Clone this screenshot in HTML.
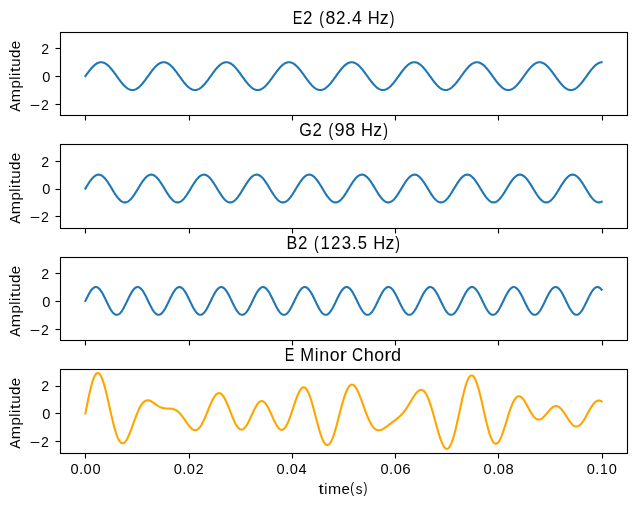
<!DOCTYPE html>
<html><head><meta charset="utf-8"><title>E Minor Chord</title>
<style>html,body{margin:0;padding:0;background:#fff;overflow:hidden}svg{display:block}text{font-family:"Liberation Sans",sans-serif}</style>
</head><body>
<svg width="636" height="506" viewBox="0 0 636 506">
<rect width="636" height="506" fill="#fff"/>
<polyline fill="none" stroke="#1f77b4" stroke-width="2.11" stroke-linejoin="round" stroke-linecap="square" points="85.41,76.12 85.93,75.40 86.44,74.69 86.96,73.97 87.48,73.26 87.99,72.56 88.51,71.87 89.03,71.19 89.54,70.53 90.06,69.88 90.58,69.24 91.09,68.63 91.61,68.03 92.13,67.46 92.64,66.90 93.16,66.38 93.68,65.88 94.19,65.41 94.71,64.96 95.23,64.55 95.74,64.17 96.26,63.82 96.78,63.50 97.29,63.22 97.81,62.97 98.33,62.75 98.84,62.58 99.36,62.43 99.88,62.33 100.39,62.26 100.91,62.23 101.43,62.24 101.94,62.28 102.46,62.36 102.98,62.48 103.49,62.64 104.01,62.83 104.53,63.06 105.04,63.32 105.56,63.62 106.08,63.95 106.59,64.31 107.11,64.70 107.63,65.13 108.14,65.58 108.66,66.07 109.18,66.58 109.69,67.11 110.21,67.67 110.73,68.25 111.24,68.86 111.76,69.48 112.28,70.12 112.79,70.78 113.31,71.45 113.83,72.14 114.34,72.83 114.86,73.53 115.38,74.24 115.89,74.96 116.41,75.68 116.93,76.40 117.44,77.12 117.96,77.83 118.48,78.55 118.99,79.25 119.51,79.95 120.03,80.64 120.54,81.31 121.06,81.97 121.58,82.62 122.09,83.24 122.61,83.85 123.13,84.44 123.64,85.01 124.16,85.55 124.68,86.06 125.19,86.55 125.71,87.02 126.23,87.45 126.74,87.85 127.26,88.22 127.78,88.56 128.30,88.86 128.81,89.13 129.33,89.37 129.85,89.57 130.36,89.73 130.88,89.86 131.40,89.95 131.91,90.00 132.43,90.02 132.95,90.00 133.46,89.94 133.98,89.84 134.50,89.71 135.01,89.54 135.53,89.34 136.05,89.10 136.56,88.82 137.08,88.51 137.60,88.17 138.11,87.79 138.63,87.39 139.15,86.95 139.66,86.49 140.18,85.99 140.70,85.47 141.21,84.93 141.73,84.36 142.25,83.77 142.76,83.16 143.28,82.53 143.80,81.88 144.31,81.22 144.83,80.54 145.35,79.85 145.86,79.15 146.38,78.45 146.90,77.73 147.41,77.02 147.93,76.30 148.45,75.58 148.96,74.86 149.48,74.14 150.00,73.43 150.51,72.73 151.03,72.04 151.55,71.35 152.06,70.68 152.58,70.03 153.10,69.39 153.61,68.77 154.13,68.17 154.65,67.59 155.16,67.03 155.68,66.50 156.20,66.00 156.71,65.52 157.23,65.07 157.75,64.64 158.26,64.25 158.78,63.90 159.30,63.57 159.81,63.28 160.33,63.02 160.85,62.80 161.36,62.61 161.88,62.46 162.40,62.35 162.91,62.27 163.43,62.24 163.95,62.23 164.46,62.27 164.98,62.34 165.50,62.45 166.01,62.60 166.53,62.78 167.05,63.00 167.56,63.25 168.08,63.54 168.60,63.86 169.11,64.22 169.63,64.61 170.15,65.02 170.66,65.47 171.18,65.95 171.70,66.45 172.21,66.98 172.73,67.54 173.25,68.11 173.76,68.71 174.28,69.33 174.80,69.97 175.31,70.62 175.83,71.29 176.35,71.97 176.86,72.66 177.38,73.37 177.90,74.07 178.41,74.79 178.93,75.51 179.45,76.23 179.96,76.95 180.48,77.66 181.00,78.38 181.52,79.09 182.03,79.78 182.55,80.47 183.07,81.15 183.58,81.82 184.10,82.46 184.62,83.10 185.13,83.71 185.65,84.30 186.17,84.87 186.68,85.42 187.20,85.94 187.72,86.44 188.23,86.91 188.75,87.35 189.27,87.76 189.78,88.13 190.30,88.48 190.82,88.79 191.33,89.07 191.85,89.32 192.37,89.52 192.88,89.70 193.40,89.83 193.92,89.93 194.43,89.99 194.95,90.02 195.47,90.01 195.98,89.96 196.50,89.87 197.02,89.75 197.53,89.59 198.05,89.39 198.57,89.16 199.08,88.89 199.60,88.59 200.12,88.25 200.63,87.89 201.15,87.49 201.67,87.06 202.18,86.60 202.70,86.11 203.22,85.60 203.73,85.06 204.25,84.50 204.77,83.91 205.28,83.30 205.80,82.68 206.32,82.03 206.83,81.37 207.35,80.70 207.87,80.01 208.38,79.32 208.90,78.61 209.42,77.90 209.93,77.19 210.45,76.47 210.97,75.75 211.48,75.03 212.00,74.31 212.52,73.60 213.03,72.90 213.55,72.20 214.07,71.52 214.58,70.84 215.10,70.18 215.62,69.54 216.13,68.92 216.65,68.31 217.17,67.73 217.68,67.16 218.20,66.63 218.72,66.11 219.23,65.63 219.75,65.17 220.27,64.74 220.78,64.34 221.30,63.98 221.82,63.65 222.33,63.35 222.85,63.08 223.37,62.85 223.88,62.66 224.40,62.50 224.92,62.37 225.43,62.29 225.95,62.24 226.47,62.23 226.98,62.26 227.50,62.32 228.02,62.42 228.53,62.56 229.05,62.73 229.57,62.94 230.08,63.19 230.60,63.47 231.12,63.78 231.63,64.13 232.15,64.51 232.67,64.92 233.18,65.36 233.70,65.83 234.22,66.33 234.73,66.85 235.25,67.40 235.77,67.97 236.29,68.57 236.80,69.18 237.32,69.82 237.84,70.47 238.35,71.13 238.87,71.81 239.39,72.50 239.90,73.20 240.42,73.91 240.94,74.62 241.45,75.34 241.97,76.06 242.49,76.78 243.00,77.49 243.52,78.21 244.04,78.92 244.55,79.62 245.07,80.31 245.59,80.99 246.10,81.66 246.62,82.31 247.14,82.95 247.65,83.57 248.17,84.16 248.69,84.74 249.20,85.29 249.72,85.82 250.24,86.32 250.75,86.80 251.27,87.25 251.79,87.66 252.30,88.05 252.82,88.40 253.34,88.72 253.85,89.01 254.37,89.26 254.89,89.48 255.40,89.66 255.92,89.80 256.44,89.91 256.95,89.98 257.47,90.02 257.99,90.01 258.50,89.97 259.02,89.89 259.54,89.78 260.05,89.63 260.57,89.44 261.09,89.22 261.60,88.96 262.12,88.66 262.64,88.34 263.15,87.98 263.67,87.58 264.19,87.16 264.70,86.71 265.22,86.23 265.74,85.72 266.25,85.19 266.77,84.63 267.29,84.05 267.80,83.45 268.32,82.83 268.84,82.19 269.35,81.53 269.87,80.86 270.39,80.18 270.90,79.49 271.42,78.78 271.94,78.07 272.45,77.36 272.97,76.64 273.49,75.92 274.00,75.20 274.52,74.48 275.04,73.77 275.55,73.06 276.07,72.37 276.59,71.68 277.10,71.00 277.62,70.34 278.14,69.69 278.65,69.06 279.17,68.45 279.69,67.86 280.20,67.30 280.72,66.75 281.24,66.23 281.75,65.74 282.27,65.28 282.79,64.84 283.30,64.44 283.82,64.06 284.34,63.72 284.85,63.41 285.37,63.14 285.89,62.90 286.40,62.70 286.92,62.53 287.44,62.40 287.95,62.31 288.47,62.25 288.99,62.23 289.51,62.25 290.02,62.30 290.54,62.40 291.06,62.52 291.57,62.69 292.09,62.89 292.61,63.13 293.12,63.40 293.64,63.71 294.16,64.05 294.67,64.42 295.19,64.82 295.71,65.26 296.22,65.72 296.74,66.21 297.26,66.73 297.77,67.27 298.29,67.84 298.81,68.43 299.32,69.03 299.84,69.66 300.36,70.31 300.87,70.97 301.39,71.65 301.91,72.33 302.42,73.03 302.94,73.74 303.46,74.45 303.97,75.17 304.49,75.89 305.01,76.61 305.52,77.32 306.04,78.04 306.56,78.75 307.07,79.45 307.59,80.15 308.11,80.83 308.62,81.50 309.14,82.16 309.66,82.80 310.17,83.42 310.69,84.02 311.21,84.60 311.72,85.16 312.24,85.70 312.76,86.21 313.27,86.69 313.79,87.14 314.31,87.57 314.82,87.96 315.34,88.32 315.86,88.65 316.37,88.94 316.89,89.20 317.41,89.43 317.92,89.62 318.44,89.77 318.96,89.89 319.47,89.97 319.99,90.01 320.51,90.02 321.02,89.98 321.54,89.92 322.06,89.81 322.57,89.67 323.09,89.49 323.61,89.27 324.12,89.02 324.64,88.74 325.16,88.42 325.67,88.06 326.19,87.68 326.71,87.27 327.22,86.82 327.74,86.35 328.26,85.85 328.77,85.32 329.29,84.77 329.81,84.19 330.32,83.59 330.84,82.98 331.36,82.34 331.87,81.69 332.39,81.02 332.91,80.34 333.42,79.65 333.94,78.95 334.46,78.24 334.97,77.53 335.49,76.81 336.01,76.09 336.52,75.37 337.04,74.65 337.56,73.94 338.07,73.23 338.59,72.53 339.11,71.84 339.62,71.16 340.14,70.50 340.66,69.85 341.17,69.21 341.69,68.60 342.21,68.00 342.72,67.43 343.24,66.88 343.76,66.35 344.28,65.86 344.79,65.38 345.31,64.94 345.83,64.53 346.34,64.15 346.86,63.80 347.38,63.48 347.89,63.20 348.41,62.96 348.93,62.74 349.44,62.57 349.96,62.43 350.48,62.33 350.99,62.26 351.51,62.23 352.03,62.24 352.54,62.29 353.06,62.37 353.58,62.49 354.09,62.65 354.61,62.84 355.13,63.07 355.64,63.33 356.16,63.63 356.68,63.96 357.19,64.33 357.71,64.72 358.23,65.15 358.74,65.61 359.26,66.09 359.78,66.60 360.29,67.14 360.81,67.70 361.33,68.28 361.84,68.89 362.36,69.51 362.88,70.15 363.39,70.81 363.91,71.48 364.43,72.17 364.94,72.86 365.46,73.57 365.98,74.28 366.49,75.00 367.01,75.71 367.53,76.43 368.04,77.15 368.56,77.87 369.08,78.58 369.59,79.29 370.11,79.98 370.63,80.67 371.14,81.34 371.66,82.00 372.18,82.65 372.69,83.27 373.21,83.88 373.73,84.47 374.24,85.03 374.76,85.57 375.28,86.09 375.79,86.58 376.31,87.04 376.83,87.47 377.34,87.87 377.86,88.24 378.38,88.57 378.89,88.88 379.41,89.15 379.93,89.38 380.44,89.58 380.96,89.74 381.48,89.86 381.99,89.95 382.51,90.00 383.03,90.02 383.54,90.00 384.06,89.94 384.58,89.84 385.09,89.70 385.61,89.53 386.13,89.33 386.64,89.08 387.16,88.81 387.68,88.50 388.19,88.15 388.71,87.77 389.23,87.37 389.74,86.93 390.26,86.46 390.78,85.97 391.29,85.45 391.81,84.90 392.33,84.33 392.84,83.74 393.36,83.13 393.88,82.49 394.39,81.85 394.91,81.18 395.43,80.51 395.94,79.82 396.46,79.12 396.98,78.41 397.49,77.70 398.01,76.98 398.53,76.26 399.05,75.54 399.56,74.82 400.08,74.11 400.60,73.40 401.11,72.70 401.63,72.00 402.15,71.32 402.66,70.65 403.18,70.00 403.70,69.36 404.21,68.74 404.73,68.14 405.25,67.56 405.76,67.01 406.28,66.48 406.80,65.97 407.31,65.49 407.83,65.04 408.35,64.63 408.86,64.24 409.38,63.88 409.90,63.56 410.41,63.27 410.93,63.01 411.45,62.79 411.96,62.61 412.48,62.46 413.00,62.35 413.51,62.27 414.03,62.23 414.55,62.23 415.06,62.27 415.58,62.35 416.10,62.46 416.61,62.61 417.13,62.79 417.65,63.01 418.16,63.27 418.68,63.56 419.20,63.88 419.71,64.24 420.23,64.63 420.75,65.05 421.26,65.49 421.78,65.97 422.30,66.48 422.81,67.01 423.33,67.56 423.85,68.14 424.36,68.74 424.88,69.36 425.40,70.00 425.91,70.65 426.43,71.32 426.95,72.01 427.46,72.70 427.98,73.40 428.50,74.11 429.01,74.82 429.53,75.54 430.05,76.26 430.56,76.98 431.08,77.70 431.60,78.41 432.11,79.12 432.63,79.82 433.15,80.51 433.66,81.18 434.18,81.85 434.70,82.50 435.21,83.13 435.73,83.74 436.25,84.33 436.76,84.90 437.28,85.45 437.80,85.97 438.31,86.46 438.83,86.93 439.35,87.37 439.86,87.78 440.38,88.15 440.90,88.50 441.41,88.81 441.93,89.08 442.45,89.33 442.96,89.53 443.48,89.70 444.00,89.84 444.51,89.94 445.03,90.00 445.55,90.02 446.06,90.00 446.58,89.95 447.10,89.86 447.61,89.74 448.13,89.58 448.65,89.38 449.16,89.14 449.68,88.88 450.20,88.57 450.71,88.24 451.23,87.87 451.75,87.47 452.27,87.04 452.78,86.58 453.30,86.09 453.82,85.57 454.33,85.03 454.85,84.47 455.37,83.88 455.88,83.27 456.40,82.65 456.92,82.00 457.43,81.34 457.95,80.67 458.47,79.98 458.98,79.28 459.50,78.58 460.02,77.87 460.53,77.15 461.05,76.43 461.57,75.71 462.08,74.99 462.60,74.28 463.12,73.57 463.63,72.86 464.15,72.17 464.67,71.48 465.18,70.81 465.70,70.15 466.22,69.51 466.73,68.89 467.25,68.28 467.77,67.70 468.28,67.14 468.80,66.60 469.32,66.09 469.83,65.60 470.35,65.15 470.87,64.72 471.38,64.33 471.90,63.96 472.42,63.63 472.93,63.33 473.45,63.07 473.97,62.84 474.48,62.65 475.00,62.49 475.52,62.37 476.03,62.29 476.55,62.24 477.07,62.23 477.58,62.26 478.10,62.33 478.62,62.43 479.13,62.57 479.65,62.74 480.17,62.96 480.68,63.20 481.20,63.48 481.72,63.80 482.23,64.15 482.75,64.53 483.27,64.94 483.78,65.39 484.30,65.86 484.82,66.36 485.33,66.88 485.85,67.43 486.37,68.00 486.88,68.60 487.40,69.21 487.92,69.85 488.43,70.50 488.95,71.16 489.47,71.84 489.98,72.53 490.50,73.23 491.02,73.94 491.53,74.65 492.05,75.37 492.57,76.09 493.08,76.81 493.60,77.53 494.12,78.24 494.63,78.95 495.15,79.65 495.67,80.34 496.18,81.02 496.70,81.69 497.22,82.34 497.73,82.98 498.25,83.60 498.77,84.19 499.28,84.77 499.80,85.32 500.32,85.85 500.83,86.35 501.35,86.82 501.87,87.27 502.38,87.68 502.90,88.07 503.42,88.42 503.93,88.74 504.45,89.02 504.97,89.27 505.48,89.49 506.00,89.67 506.52,89.81 507.04,89.92 507.55,89.98 508.07,90.02 508.59,90.01 509.10,89.97 509.62,89.89 510.14,89.77 510.65,89.62 511.17,89.43 511.69,89.20 512.20,88.94 512.72,88.65 513.24,88.32 513.75,87.96 514.27,87.56 514.79,87.14 515.30,86.69 515.82,86.21 516.34,85.70 516.85,85.16 517.37,84.60 517.89,84.02 518.40,83.42 518.92,82.80 519.44,82.16 519.95,81.50 520.47,80.83 520.99,80.15 521.50,79.45 522.02,78.75 522.54,78.04 523.05,77.32 523.57,76.60 524.09,75.88 524.60,75.16 525.12,74.45 525.64,73.74 526.15,73.03 526.67,72.33 527.19,71.64 527.70,70.97 528.22,70.31 528.74,69.66 529.25,69.03 529.77,68.42 530.29,67.84 530.80,67.27 531.32,66.73 531.84,66.21 532.35,65.72 532.87,65.25 533.39,64.82 533.90,64.42 534.42,64.05 534.94,63.71 535.45,63.40 535.97,63.13 536.49,62.89 537.00,62.69 537.52,62.52 538.04,62.39 538.55,62.30 539.07,62.25 539.59,62.23 540.10,62.25 540.62,62.31 541.14,62.40 541.65,62.53 542.17,62.70 542.69,62.90 543.20,63.14 543.72,63.41 544.24,63.72 544.75,64.06 545.27,64.44 545.79,64.84 546.30,65.28 546.82,65.74 547.34,66.23 547.85,66.75 548.37,67.30 548.89,67.86 549.40,68.45 549.92,69.06 550.44,69.69 550.95,70.34 551.47,71.00 551.99,71.68 552.50,72.37 553.02,73.07 553.54,73.77 554.05,74.48 554.57,75.20 555.09,75.92 555.60,76.64 556.12,77.36 556.64,78.07 557.15,78.78 557.67,79.49 558.19,80.18 558.70,80.86 559.22,81.53 559.74,82.19 560.26,82.83 560.77,83.45 561.29,84.05 561.81,84.63 562.32,85.19 562.84,85.72 563.36,86.23 563.87,86.71 564.39,87.16 564.91,87.59 565.42,87.98 565.94,88.34 566.46,88.66 566.97,88.96 567.49,89.22 568.01,89.44 568.52,89.63 569.04,89.78 569.56,89.89 570.07,89.97 570.59,90.01 571.11,90.02 571.62,89.98 572.14,89.91 572.66,89.80 573.17,89.66 573.69,89.48 574.21,89.26 574.72,89.01 575.24,88.72 575.76,88.40 576.27,88.05 576.79,87.66 577.31,87.24 577.82,86.80 578.34,86.32 578.86,85.82 579.37,85.29 579.89,84.74 580.41,84.16 580.92,83.56 581.44,82.95 581.96,82.31 582.47,81.66 582.99,80.99 583.51,80.31 584.02,79.62 584.54,78.92 585.06,78.21 585.57,77.49 586.09,76.77 586.61,76.05 587.12,75.34 587.64,74.62 588.16,73.90 588.67,73.20 589.19,72.50 589.71,71.81 590.22,71.13 590.74,70.46 591.26,69.81 591.77,69.18 592.29,68.57 592.81,67.97 593.32,67.40 593.84,66.85 594.36,66.33 594.87,65.83 595.39,65.36 595.91,64.92 596.42,64.51 596.94,64.13 597.46,63.78 597.97,63.47 598.49,63.19 599.01,62.94 599.52,62.73 600.04,62.56 600.56,62.42 601.07,62.32 601.59,62.26"/>
<polyline fill="none" stroke="#1f77b4" stroke-width="2.11" stroke-linejoin="round" stroke-linecap="square" points="85.41,188.53 85.93,187.67 86.44,186.82 86.96,185.97 87.48,185.14 87.99,184.31 88.51,183.50 89.03,182.72 89.54,181.95 90.06,181.21 90.58,180.49 91.09,179.81 91.61,179.16 92.13,178.55 92.64,177.97 93.16,177.43 93.68,176.94 94.19,176.49 94.71,176.08 95.23,175.73 95.74,175.42 96.26,175.16 96.78,174.95 97.29,174.79 97.81,174.69 98.33,174.64 98.84,174.64 99.36,174.69 99.88,174.80 100.39,174.96 100.91,175.17 101.43,175.43 101.94,175.74 102.46,176.10 102.98,176.50 103.49,176.95 104.01,177.45 104.53,177.99 105.04,178.57 105.56,179.18 106.08,179.83 106.59,180.52 107.11,181.23 107.63,181.97 108.14,182.74 108.66,183.53 109.18,184.34 109.69,185.16 110.21,186.00 110.73,186.84 111.24,187.70 111.76,188.55 112.28,189.41 112.79,190.26 113.31,191.11 113.83,191.94 114.34,192.77 114.86,193.57 115.38,194.36 115.89,195.13 116.41,195.87 116.93,196.58 117.44,197.26 117.96,197.91 118.48,198.52 118.99,199.10 119.51,199.64 120.03,200.13 120.54,200.58 121.06,200.98 121.58,201.34 122.09,201.64 122.61,201.90 123.13,202.11 123.64,202.26 124.16,202.37 124.68,202.42 125.19,202.41 125.71,202.36 126.23,202.25 126.74,202.09 127.26,201.88 127.78,201.62 128.30,201.31 128.81,200.95 129.33,200.54 129.85,200.08 130.36,199.59 130.88,199.05 131.40,198.47 131.91,197.85 132.43,197.20 132.95,196.52 133.46,195.80 133.98,195.06 134.50,194.29 135.01,193.50 135.53,192.69 136.05,191.87 136.56,191.03 137.08,190.18 137.60,189.33 138.11,188.47 138.63,187.62 139.15,186.77 139.66,185.92 140.18,185.08 140.70,184.26 141.21,183.46 141.73,182.67 142.25,181.90 142.76,181.16 143.28,180.45 143.80,179.77 144.31,179.12 144.83,178.51 145.35,177.94 145.86,177.40 146.38,176.91 146.90,176.46 147.41,176.06 147.93,175.71 148.45,175.40 148.96,175.15 149.48,174.94 150.00,174.79 150.51,174.69 151.03,174.64 151.55,174.64 152.06,174.70 152.58,174.81 153.10,174.97 153.61,175.18 154.13,175.45 154.65,175.76 155.16,176.12 155.68,176.53 156.20,176.98 156.71,177.48 157.23,178.02 157.75,178.60 158.26,179.22 158.78,179.87 159.30,180.56 159.81,181.28 160.33,182.02 160.85,182.79 161.36,183.58 161.88,184.39 162.40,185.21 162.91,186.05 163.43,186.90 163.95,187.75 164.46,188.61 164.98,189.46 165.50,190.31 166.01,191.16 166.53,191.99 167.05,192.82 167.56,193.62 168.08,194.41 168.60,195.17 169.11,195.91 169.63,196.62 170.15,197.30 170.66,197.95 171.18,198.56 171.70,199.13 172.21,199.67 172.73,200.16 173.25,200.60 173.76,201.00 174.28,201.36 174.80,201.66 175.31,201.92 175.83,202.12 176.35,202.27 176.86,202.37 177.38,202.42 177.90,202.41 178.41,202.35 178.93,202.24 179.45,202.08 179.96,201.86 180.48,201.60 181.00,201.28 181.52,200.92 182.03,200.51 182.55,200.06 183.07,199.56 183.58,199.01 184.10,198.43 184.62,197.81 185.13,197.16 185.65,196.47 186.17,195.76 186.68,195.01 187.20,194.24 187.72,193.45 188.23,192.64 188.75,191.82 189.27,190.98 189.78,190.13 190.30,189.28 190.82,188.42 191.33,187.57 191.85,186.71 192.37,185.87 192.88,185.03 193.40,184.21 193.92,183.41 194.43,182.62 194.95,181.86 195.47,181.12 195.98,180.41 196.50,179.73 197.02,179.08 197.53,178.47 198.05,177.90 198.57,177.37 199.08,176.88 199.60,176.44 200.12,176.04 200.63,175.69 201.15,175.38 201.67,175.13 202.18,174.93 202.70,174.78 203.22,174.68 203.73,174.64 204.25,174.64 204.77,174.70 205.28,174.82 205.80,174.98 206.32,175.20 206.83,175.46 207.35,175.78 207.87,176.14 208.38,176.56 208.90,177.01 209.42,177.51 209.93,178.06 210.45,178.64 210.97,179.26 211.48,179.91 212.00,180.60 212.52,181.32 213.03,182.07 213.55,182.84 214.07,183.63 214.58,184.44 215.10,185.26 215.62,186.10 216.13,186.95 216.65,187.80 217.17,188.66 217.68,189.51 218.20,190.37 218.72,191.21 219.23,192.04 219.75,192.87 220.27,193.67 220.78,194.46 221.30,195.22 221.82,195.96 222.33,196.67 222.85,197.34 223.37,197.99 223.88,198.60 224.40,199.17 224.92,199.70 225.43,200.19 225.95,200.63 226.47,201.03 226.98,201.38 227.50,201.68 228.02,201.93 228.53,202.13 229.05,202.28 229.57,202.37 230.08,202.42 230.60,202.41 231.12,202.35 231.63,202.23 232.15,202.07 232.67,201.85 233.18,201.58 233.70,201.26 234.22,200.90 234.73,200.48 235.25,200.03 235.77,199.52 236.29,198.98 236.80,198.40 237.32,197.78 237.84,197.12 238.35,196.43 238.87,195.71 239.39,194.96 239.90,194.19 240.42,193.40 240.94,192.59 241.45,191.77 241.97,190.93 242.49,190.08 243.00,189.23 243.52,188.37 244.04,187.51 244.55,186.66 245.07,185.82 245.59,184.98 246.10,184.16 246.62,183.36 247.14,182.57 247.65,181.81 248.17,181.08 248.69,180.37 249.20,179.69 249.72,179.05 250.24,178.44 250.75,177.87 251.27,177.34 251.79,176.85 252.30,176.41 252.82,176.02 253.34,175.67 253.85,175.37 254.37,175.12 254.89,174.92 255.40,174.77 255.92,174.68 256.44,174.63 256.95,174.65 257.47,174.71 257.99,174.82 258.50,174.99 259.02,175.21 259.54,175.48 260.05,175.80 260.57,176.17 261.09,176.58 261.60,177.04 262.12,177.55 262.64,178.09 263.15,178.68 263.67,179.30 264.19,179.96 264.70,180.65 265.22,181.37 265.74,182.11 266.25,182.88 266.77,183.68 267.29,184.49 267.80,185.31 268.32,186.15 268.84,187.00 269.35,187.85 269.87,188.71 270.39,189.57 270.90,190.42 271.42,191.26 271.94,192.10 272.45,192.92 272.97,193.72 273.49,194.50 274.00,195.26 274.52,196.00 275.04,196.71 275.55,197.38 276.07,198.03 276.59,198.63 277.10,199.20 277.62,199.73 278.14,200.21 278.65,200.65 279.17,201.05 279.69,201.40 280.20,201.69 280.72,201.94 281.24,202.14 281.75,202.29 282.27,202.38 282.79,202.42 283.30,202.41 283.82,202.34 284.34,202.23 284.85,202.06 285.37,201.84 285.89,201.56 286.40,201.24 286.92,200.87 287.44,200.46 287.95,200.00 288.47,199.49 288.99,198.95 289.51,198.36 290.02,197.74 290.54,197.08 291.06,196.39 291.57,195.67 292.09,194.92 292.61,194.15 293.12,193.35 293.64,192.54 294.16,191.71 294.67,190.87 295.19,190.03 295.71,189.17 296.22,188.32 296.74,187.46 297.26,186.61 297.77,185.77 298.29,184.93 298.81,184.11 299.32,183.31 299.84,182.53 300.36,181.77 300.87,181.03 301.39,180.32 301.91,179.65 302.42,179.01 302.94,178.40 303.46,177.84 303.97,177.31 304.49,176.83 305.01,176.39 305.52,175.99 306.04,175.65 306.56,175.35 307.07,175.10 307.59,174.91 308.11,174.76 308.62,174.67 309.14,174.63 309.66,174.65 310.17,174.71 310.69,174.83 311.21,175.00 311.72,175.23 312.24,175.50 312.76,175.82 313.27,176.19 313.79,176.61 314.31,177.07 314.82,177.58 315.34,178.13 315.86,178.71 316.37,179.34 316.89,180.00 317.41,180.69 317.92,181.41 318.44,182.16 318.96,182.93 319.47,183.73 319.99,184.54 320.51,185.37 321.02,186.20 321.54,187.05 322.06,187.91 322.57,188.76 323.09,189.62 323.61,190.47 324.12,191.31 324.64,192.15 325.16,192.97 325.67,193.77 326.19,194.55 326.71,195.31 327.22,196.04 327.74,196.75 328.26,197.42 328.77,198.06 329.29,198.67 329.81,199.23 330.32,199.76 330.84,200.24 331.36,200.68 331.87,201.07 332.39,201.42 332.91,201.71 333.42,201.96 333.94,202.15 334.46,202.29 334.97,202.38 335.49,202.42 336.01,202.40 336.52,202.34 337.04,202.22 337.56,202.04 338.07,201.82 338.59,201.55 339.11,201.22 339.62,200.85 340.14,200.43 340.66,199.97 341.17,199.46 341.69,198.91 342.21,198.32 342.72,197.70 343.24,197.04 343.76,196.34 344.28,195.62 344.79,194.87 345.31,194.10 345.83,193.30 346.34,192.49 346.86,191.66 347.38,190.82 347.89,189.97 348.41,189.12 348.93,188.26 349.44,187.41 349.96,186.56 350.48,185.71 350.99,184.88 351.51,184.06 352.03,183.26 352.54,182.48 353.06,181.72 353.58,180.99 354.09,180.28 354.61,179.61 355.13,178.97 355.64,178.37 356.16,177.80 356.68,177.28 357.19,176.80 357.71,176.36 358.23,175.97 358.74,175.63 359.26,175.33 359.78,175.09 360.29,174.90 360.81,174.76 361.33,174.67 361.84,174.63 362.36,174.65 362.88,174.72 363.39,174.84 363.91,175.02 364.43,175.24 364.94,175.52 365.46,175.84 365.98,176.22 366.49,176.64 367.01,177.10 367.53,177.61 368.04,178.16 368.56,178.75 369.08,179.38 369.59,180.04 370.11,180.73 370.63,181.46 371.14,182.21 371.66,182.98 372.18,183.77 372.69,184.59 373.21,185.42 373.73,186.26 374.24,187.10 374.76,187.96 375.28,188.82 375.79,189.67 376.31,190.52 376.83,191.36 377.34,192.20 377.86,193.02 378.38,193.82 378.89,194.60 379.41,195.36 379.93,196.09 380.44,196.79 380.96,197.46 381.48,198.10 381.99,198.70 382.51,199.27 383.03,199.79 383.54,200.27 384.06,200.71 384.58,201.09 385.09,201.44 385.61,201.73 386.13,201.97 386.64,202.16 387.16,202.30 387.68,202.39 388.19,202.42 388.71,202.40 389.23,202.33 389.74,202.21 390.26,202.03 390.78,201.80 391.29,201.53 391.81,201.20 392.33,200.83 392.84,200.40 393.36,199.94 393.88,199.43 394.39,198.88 394.91,198.29 395.43,197.66 395.94,196.99 396.46,196.30 396.98,195.58 397.49,194.83 398.01,194.05 398.53,193.25 399.05,192.44 399.56,191.61 400.08,190.77 400.60,189.92 401.11,189.07 401.63,188.21 402.15,187.36 402.66,186.51 403.18,185.66 403.70,184.83 404.21,184.01 404.73,183.21 405.25,182.43 405.76,181.67 406.28,180.94 406.80,180.24 407.31,179.57 407.83,178.93 408.35,178.33 408.86,177.77 409.38,177.25 409.90,176.77 410.41,176.34 410.93,175.95 411.45,175.61 411.96,175.32 412.48,175.08 413.00,174.89 413.51,174.75 414.03,174.67 414.55,174.63 415.06,174.65 415.58,174.73 416.10,174.85 416.61,175.03 417.13,175.26 417.65,175.54 418.16,175.86 418.68,176.24 419.20,176.66 419.71,177.13 420.23,177.64 420.75,178.20 421.26,178.79 421.78,179.42 422.30,180.08 422.81,180.78 423.33,181.50 423.85,182.25 424.36,183.03 424.88,183.82 425.40,184.64 425.91,185.47 426.43,186.31 426.95,187.16 427.46,188.01 427.98,188.87 428.50,189.72 429.01,190.57 429.53,191.42 430.05,192.25 430.56,193.06 431.08,193.87 431.60,194.65 432.11,195.40 432.63,196.13 433.15,196.83 433.66,197.50 434.18,198.14 434.70,198.74 435.21,199.30 435.73,199.82 436.25,200.30 436.76,200.73 437.28,201.12 437.80,201.45 438.31,201.74 438.83,201.98 439.35,202.17 439.86,202.31 440.38,202.39 440.90,202.42 441.41,202.40 441.93,202.32 442.45,202.20 442.96,202.02 443.48,201.79 444.00,201.51 444.51,201.18 445.03,200.80 445.55,200.38 446.06,199.91 446.58,199.39 447.10,198.84 447.61,198.25 448.13,197.62 448.65,196.95 449.16,196.26 449.68,195.53 450.20,194.78 450.71,194.00 451.23,193.21 451.75,192.39 452.27,191.56 452.78,190.72 453.30,189.87 453.82,189.02 454.33,188.16 454.85,187.30 455.37,186.45 455.88,185.61 456.40,184.78 456.92,183.96 457.43,183.16 457.95,182.38 458.47,181.63 458.98,180.90 459.50,180.20 460.02,179.53 460.53,178.89 461.05,178.30 461.57,177.74 462.08,177.22 462.60,176.74 463.12,176.31 463.63,175.93 464.15,175.59 464.67,175.30 465.18,175.06 465.70,174.88 466.22,174.74 466.73,174.66 467.25,174.63 467.77,174.66 468.28,174.73 468.80,174.86 469.32,175.04 469.83,175.27 470.35,175.55 470.87,175.89 471.38,176.26 471.90,176.69 472.42,177.16 472.93,177.68 473.45,178.23 473.97,178.82 474.48,179.46 475.00,180.12 475.52,180.82 476.03,181.55 476.55,182.30 477.07,183.08 477.58,183.87 478.10,184.69 478.62,185.52 479.13,186.36 479.65,187.21 480.17,188.06 480.68,188.92 481.20,189.77 481.72,190.62 482.23,191.47 482.75,192.30 483.27,193.11 483.78,193.91 484.30,194.69 484.82,195.45 485.33,196.18 485.85,196.88 486.37,197.54 486.88,198.18 487.40,198.78 487.92,199.33 488.43,199.85 488.95,200.33 489.47,200.76 489.98,201.14 490.50,201.47 491.02,201.76 491.53,202.00 492.05,202.18 492.57,202.31 493.08,202.39 493.60,202.42 494.12,202.40 494.63,202.32 495.15,202.19 495.67,202.01 496.18,201.77 496.70,201.49 497.22,201.16 497.73,200.78 498.25,200.35 498.77,199.88 499.28,199.36 499.80,198.81 500.32,198.21 500.83,197.58 501.35,196.91 501.87,196.21 502.38,195.49 502.90,194.73 503.42,193.95 503.93,193.16 504.45,192.34 504.97,191.51 505.48,190.67 506.00,189.82 506.52,188.96 507.04,188.11 507.55,187.25 508.07,186.40 508.59,185.56 509.10,184.73 509.62,183.91 510.14,183.12 510.65,182.34 511.17,181.58 511.69,180.86 512.20,180.16 512.72,179.49 513.24,178.86 513.75,178.26 514.27,177.70 514.79,177.19 515.30,176.71 515.82,176.29 516.34,175.90 516.85,175.57 517.37,175.29 517.89,175.05 518.40,174.87 518.92,174.74 519.44,174.66 519.95,174.63 520.47,174.66 520.99,174.74 521.50,174.87 522.02,175.05 522.54,175.29 523.05,175.57 523.57,175.91 524.09,176.29 524.60,176.72 525.12,177.19 525.64,177.71 526.15,178.27 526.67,178.86 527.19,179.50 527.70,180.16 528.22,180.86 528.74,181.59 529.25,182.35 529.77,183.12 530.29,183.92 530.80,184.74 531.32,185.57 531.84,186.41 532.35,187.26 532.87,188.12 533.39,188.97 533.90,189.83 534.42,190.68 534.94,191.52 535.45,192.35 535.97,193.16 536.49,193.96 537.00,194.74 537.52,195.49 538.04,196.22 538.55,196.92 539.07,197.58 539.59,198.22 540.10,198.81 540.62,199.37 541.14,199.88 541.65,200.35 542.17,200.78 542.69,201.16 543.20,201.49 543.72,201.78 544.24,202.01 544.75,202.19 545.27,202.32 545.79,202.40 546.30,202.42 546.82,202.39 547.34,202.31 547.85,202.18 548.37,201.99 548.89,201.76 549.40,201.47 549.92,201.14 550.44,200.75 550.95,200.32 551.47,199.85 551.99,199.33 552.50,198.77 553.02,198.17 553.54,197.54 554.05,196.87 554.57,196.17 555.09,195.44 555.60,194.68 556.12,193.91 556.64,193.11 557.15,192.29 557.67,191.46 558.19,190.62 558.70,189.77 559.22,188.91 559.74,188.05 560.26,187.20 560.77,186.35 561.29,185.51 561.81,184.68 562.32,183.87 562.84,183.07 563.36,182.29 563.87,181.54 564.39,180.81 564.91,180.11 565.42,179.45 565.94,178.82 566.46,178.22 566.97,177.67 567.49,177.16 568.01,176.69 568.52,176.26 569.04,175.88 569.56,175.55 570.07,175.27 570.59,175.04 571.11,174.86 571.62,174.73 572.14,174.66 572.66,174.63 573.17,174.66 573.69,174.74 574.21,174.88 574.72,175.07 575.24,175.30 575.76,175.59 576.27,175.93 576.79,176.31 577.31,176.75 577.82,177.22 578.34,177.74 578.86,178.30 579.37,178.90 579.89,179.54 580.41,180.21 580.92,180.91 581.44,181.64 581.96,182.39 582.47,183.17 582.99,183.97 583.51,184.79 584.02,185.62 584.54,186.46 585.06,187.31 585.57,188.17 586.09,189.02 586.61,189.88 587.12,190.73 587.64,191.57 588.16,192.40 588.67,193.21 589.19,194.01 589.71,194.79 590.22,195.54 590.74,196.26 591.26,196.96 591.77,197.62 592.29,198.25 592.81,198.85 593.32,199.40 593.84,199.91 594.36,200.38 594.87,200.81 595.39,201.18 595.91,201.51 596.42,201.79 596.94,202.02 597.46,202.20 597.97,202.33 598.49,202.40 599.01,202.42 599.52,202.39 600.04,202.31 600.56,202.17 601.07,201.98 601.59,201.74"/>
<polyline fill="none" stroke="#1f77b4" stroke-width="2.11" stroke-linejoin="round" stroke-linecap="square" points="85.41,300.93 85.93,299.85 86.44,298.78 86.96,297.72 87.48,296.68 87.99,295.67 88.51,294.69 89.03,293.74 89.54,292.84 90.06,291.99 90.58,291.19 91.09,290.45 91.61,289.77 92.13,289.16 92.64,288.63 93.16,288.16 93.68,287.78 94.19,287.47 94.71,287.24 95.23,287.10 95.74,287.04 96.26,287.06 96.78,287.17 97.29,287.36 97.81,287.63 98.33,287.98 98.84,288.41 99.36,288.92 99.88,289.49 100.39,290.14 100.91,290.85 101.43,291.63 101.94,292.45 102.46,293.33 102.98,294.26 103.49,295.23 104.01,296.23 104.53,297.25 105.04,298.31 105.56,299.37 106.08,300.45 106.59,301.53 107.11,302.60 107.63,303.67 108.14,304.72 108.66,305.74 109.18,306.74 109.69,307.70 110.21,308.62 110.73,309.50 111.24,310.32 111.76,311.09 112.28,311.79 112.79,312.43 113.31,313.00 113.83,313.50 114.34,313.92 114.86,314.26 115.38,314.53 115.89,314.71 116.41,314.80 116.93,314.82 117.44,314.75 117.96,314.60 118.48,314.36 118.99,314.04 119.51,313.65 120.03,313.18 120.54,312.63 121.06,312.01 121.58,311.33 122.09,310.58 122.61,309.78 123.13,308.92 123.64,308.02 124.16,307.07 124.68,306.08 125.19,305.06 125.71,304.02 126.23,302.96 126.74,301.89 127.26,300.81 127.78,299.73 128.30,298.66 128.81,297.61 129.33,296.57 129.85,295.56 130.36,294.58 130.88,293.64 131.40,292.74 131.91,291.90 132.43,291.11 132.95,290.37 133.46,289.70 133.98,289.10 134.50,288.57 135.01,288.12 135.53,287.74 136.05,287.44 136.56,287.22 137.08,287.09 137.60,287.04 138.11,287.07 138.63,287.18 139.15,287.38 139.66,287.66 140.18,288.02 140.70,288.46 141.21,288.98 141.73,289.56 142.25,290.22 142.76,290.93 143.28,291.71 143.80,292.55 144.31,293.43 144.83,294.36 145.35,295.33 145.86,296.34 146.38,297.37 146.90,298.42 147.41,299.49 147.93,300.57 148.45,301.65 148.96,302.72 149.48,303.78 150.00,304.83 150.51,305.85 151.03,306.85 151.55,307.80 152.06,308.72 152.58,309.59 153.10,310.41 153.61,311.17 154.13,311.86 154.65,312.50 155.16,313.06 155.68,313.55 156.20,313.96 156.71,314.30 157.23,314.55 157.75,314.72 158.26,314.81 158.78,314.82 159.30,314.74 159.81,314.57 160.33,314.33 160.85,314.00 161.36,313.60 161.88,313.12 162.40,312.57 162.91,311.94 163.43,311.25 163.95,310.50 164.46,309.69 164.98,308.83 165.50,307.91 166.01,306.96 166.53,305.97 167.05,304.95 167.56,303.91 168.08,302.85 168.60,301.77 169.11,300.69 169.63,299.62 170.15,298.55 170.66,297.49 171.18,296.46 171.70,295.45 172.21,294.48 172.73,293.54 173.25,292.65 173.76,291.81 174.28,291.02 174.80,290.30 175.31,289.63 175.83,289.04 176.35,288.52 176.86,288.07 177.38,287.70 177.90,287.41 178.41,287.20 178.93,287.08 179.45,287.03 179.96,287.08 180.48,287.20 181.00,287.41 181.52,287.70 182.03,288.07 182.55,288.51 183.07,289.04 183.58,289.63 184.10,290.29 184.62,291.02 185.13,291.80 185.65,292.64 186.17,293.53 186.68,294.47 187.20,295.44 187.72,296.45 188.23,297.48 188.75,298.54 189.27,299.61 189.78,300.68 190.30,301.76 190.82,302.84 191.33,303.90 191.85,304.94 192.37,305.96 192.88,306.95 193.40,307.91 193.92,308.82 194.43,309.68 194.95,310.49 195.47,311.25 195.98,311.94 196.50,312.56 197.02,313.12 197.53,313.60 198.05,314.00 198.57,314.33 199.08,314.57 199.60,314.74 200.12,314.82 200.63,314.81 201.15,314.72 201.67,314.55 202.18,314.30 202.70,313.96 203.22,313.55 203.73,313.06 204.25,312.50 204.77,311.87 205.28,311.17 205.80,310.41 206.32,309.60 206.83,308.73 207.35,307.81 207.87,306.85 208.38,305.86 208.90,304.84 209.42,303.79 209.93,302.73 210.45,301.65 210.97,300.58 211.48,299.50 212.00,298.43 212.52,297.38 213.03,296.35 213.55,295.34 214.07,294.37 214.58,293.44 215.10,292.55 215.62,291.72 216.13,290.94 216.65,290.22 217.17,289.57 217.68,288.98 218.20,288.47 218.72,288.03 219.23,287.67 219.75,287.38 220.27,287.18 220.78,287.07 221.30,287.04 221.82,287.09 222.33,287.22 222.85,287.44 223.37,287.74 223.88,288.11 224.40,288.57 224.92,289.10 225.43,289.70 225.95,290.37 226.47,291.10 226.98,291.89 227.50,292.74 228.02,293.63 228.53,294.57 229.05,295.55 229.57,296.56 230.08,297.60 230.60,298.65 231.12,299.72 231.63,300.80 232.15,301.88 232.67,302.95 233.18,304.01 233.70,305.06 234.22,306.07 234.73,307.06 235.25,308.01 235.77,308.91 236.29,309.77 236.80,310.58 237.32,311.32 237.84,312.01 238.35,312.63 238.87,313.17 239.39,313.65 239.90,314.04 240.42,314.36 240.94,314.59 241.45,314.75 241.97,314.82 242.49,314.81 243.00,314.71 243.52,314.53 244.04,314.27 244.55,313.92 245.07,313.50 245.59,313.01 246.10,312.44 246.62,311.80 247.14,311.09 247.65,310.33 248.17,309.50 248.69,308.63 249.20,307.71 249.72,306.75 250.24,305.75 250.75,304.73 251.27,303.68 251.79,302.61 252.30,301.54 252.82,300.46 253.34,299.38 253.85,298.31 254.37,297.26 254.89,296.23 255.40,295.23 255.92,294.27 256.44,293.34 256.95,292.46 257.47,291.63 257.99,290.86 258.50,290.15 259.02,289.50 259.54,288.92 260.05,288.41 260.57,287.98 261.09,287.63 261.60,287.36 262.12,287.17 262.64,287.06 263.15,287.04 263.67,287.10 264.19,287.24 264.70,287.47 265.22,287.77 265.74,288.16 266.25,288.62 266.77,289.16 267.29,289.77 267.80,290.44 268.32,291.18 268.84,291.98 269.35,292.83 269.87,293.73 270.39,294.68 270.90,295.66 271.42,296.67 271.94,297.71 272.45,298.77 272.97,299.84 273.49,300.92 274.00,302.00 274.52,303.07 275.04,304.13 275.55,305.17 276.07,306.18 276.59,307.16 277.10,308.11 277.62,309.01 278.14,309.86 278.65,310.66 279.17,311.40 279.69,312.08 280.20,312.69 280.72,313.23 281.24,313.69 281.75,314.08 282.27,314.39 282.79,314.62 283.30,314.76 283.82,314.82 284.34,314.80 284.85,314.69 285.37,314.50 285.89,314.23 286.40,313.88 286.92,313.45 287.44,312.95 287.95,312.37 288.47,311.72 288.99,311.01 289.51,310.24 290.02,309.41 290.54,308.53 291.06,307.61 291.57,306.64 292.09,305.64 292.61,304.61 293.12,303.56 293.64,302.49 294.16,301.42 294.67,300.34 295.19,299.26 295.71,298.20 296.22,297.15 296.74,296.12 297.26,295.13 297.77,294.16 298.29,293.24 298.81,292.37 299.32,291.54 299.84,290.78 300.36,290.07 300.87,289.43 301.39,288.86 301.91,288.36 302.42,287.94 302.94,287.60 303.46,287.33 303.97,287.15 304.49,287.05 305.01,287.04 305.52,287.11 306.04,287.26 306.56,287.50 307.07,287.81 307.59,288.21 308.11,288.68 308.62,289.22 309.14,289.84 309.66,290.52 310.17,291.27 310.69,292.07 311.21,292.93 311.72,293.83 312.24,294.78 312.76,295.77 313.27,296.79 313.79,297.83 314.31,298.89 314.82,299.96 315.34,301.04 315.86,302.12 316.37,303.19 316.89,304.24 317.41,305.28 317.92,306.29 318.44,307.27 318.96,308.21 319.47,309.11 319.99,309.95 320.51,310.75 321.02,311.48 321.54,312.15 322.06,312.75 322.57,313.28 323.09,313.74 323.61,314.12 324.12,314.42 324.64,314.64 325.16,314.77 325.67,314.82 326.19,314.79 326.71,314.68 327.22,314.48 327.74,314.20 328.26,313.84 328.77,313.40 329.29,312.89 329.81,312.30 330.32,311.65 330.84,310.93 331.36,310.15 331.87,309.32 332.39,308.43 332.91,307.50 333.42,306.53 333.94,305.53 334.46,304.50 334.97,303.44 335.49,302.38 336.01,301.30 336.52,300.22 337.04,299.15 337.56,298.08 338.07,297.04 338.59,296.01 339.11,295.02 339.62,294.06 340.14,293.14 340.66,292.28 341.17,291.46 341.69,290.70 342.21,290.00 342.72,289.37 343.24,288.80 343.76,288.31 344.28,287.90 344.79,287.56 345.31,287.31 345.83,287.14 346.34,287.05 346.86,287.04 347.38,287.12 347.89,287.28 348.41,287.53 348.93,287.85 349.44,288.25 349.96,288.73 350.48,289.29 350.99,289.91 351.51,290.60 352.03,291.35 352.54,292.16 353.06,293.03 353.58,293.94 354.09,294.89 354.61,295.88 355.13,296.90 355.64,297.94 356.16,299.00 356.68,300.08 357.19,301.16 357.71,302.23 358.23,303.30 358.74,304.36 359.26,305.39 359.78,306.40 360.29,307.37 360.81,308.31 361.33,309.20 361.84,310.04 362.36,310.83 362.88,311.56 363.39,312.22 363.91,312.81 364.43,313.34 364.94,313.78 365.46,314.15 365.98,314.44 366.49,314.65 367.01,314.78 367.53,314.82 368.04,314.78 368.56,314.66 369.08,314.45 369.59,314.16 370.11,313.79 370.63,313.35 371.14,312.83 371.66,312.23 372.18,311.57 372.69,310.85 373.21,310.06 373.73,309.22 374.24,308.33 374.76,307.40 375.28,306.42 375.79,305.42 376.31,304.38 376.83,303.33 377.34,302.26 377.86,301.18 378.38,300.10 378.89,299.03 379.41,297.97 379.93,296.92 380.44,295.90 380.96,294.91 381.48,293.96 381.99,293.05 382.51,292.18 383.03,291.37 383.54,290.62 384.06,289.93 384.58,289.30 385.09,288.75 385.61,288.26 386.13,287.86 386.64,287.53 387.16,287.29 387.68,287.12 388.19,287.04 388.71,287.05 389.23,287.13 389.74,287.30 390.26,287.56 390.78,287.89 391.29,288.30 391.81,288.79 392.33,289.35 392.84,289.98 393.36,290.68 393.88,291.44 394.39,292.25 394.91,293.12 395.43,294.04 395.94,295.00 396.46,295.99 396.98,297.01 397.49,298.06 398.01,299.12 398.53,300.20 399.05,301.27 399.56,302.35 400.08,303.42 400.60,304.47 401.11,305.50 401.63,306.51 402.15,307.48 402.66,308.41 403.18,309.30 403.70,310.13 404.21,310.91 404.73,311.63 405.25,312.29 405.76,312.87 406.28,313.39 406.80,313.83 407.31,314.19 407.83,314.47 408.35,314.67 408.86,314.79 409.38,314.82 409.90,314.77 410.41,314.64 410.93,314.42 411.45,314.13 411.96,313.75 412.48,313.29 413.00,312.77 413.51,312.16 414.03,311.50 414.55,310.76 415.06,309.97 415.58,309.13 416.10,308.23 416.61,307.29 417.13,306.32 417.65,305.31 418.16,304.27 418.68,303.21 419.20,302.14 419.71,301.06 420.23,299.99 420.75,298.91 421.26,297.85 421.78,296.81 422.30,295.79 422.81,294.81 423.33,293.86 423.85,292.95 424.36,292.09 424.88,291.29 425.40,290.54 425.91,289.85 426.43,289.24 426.95,288.69 427.46,288.22 427.98,287.82 428.50,287.50 429.01,287.27 429.53,287.11 430.05,287.04 430.56,287.05 431.08,287.15 431.60,287.33 432.11,287.59 432.63,287.93 433.15,288.35 433.66,288.85 434.18,289.42 434.70,290.06 435.21,290.76 435.73,291.53 436.25,292.35 436.76,293.22 437.28,294.14 437.80,295.10 438.31,296.10 438.83,297.12 439.35,298.17 439.86,299.24 440.38,300.31 440.90,301.39 441.41,302.47 441.93,303.54 442.45,304.59 442.96,305.62 443.48,306.62 444.00,307.58 444.51,308.51 445.03,309.39 445.55,310.22 446.06,310.99 446.58,311.71 447.10,312.35 447.61,312.93 448.13,313.44 448.65,313.87 449.16,314.22 449.68,314.50 450.20,314.69 450.71,314.80 451.23,314.82 451.75,314.76 452.27,314.62 452.78,314.39 453.30,314.09 453.82,313.70 454.33,313.24 454.85,312.70 455.37,312.09 455.88,311.42 456.40,310.68 456.92,309.88 457.43,309.03 457.95,308.13 458.47,307.19 458.98,306.21 459.50,305.19 460.02,304.15 460.53,303.10 461.05,302.02 461.57,300.95 462.08,299.87 462.60,298.80 463.12,297.74 463.63,296.70 464.15,295.68 464.67,294.70 465.18,293.76 465.70,292.85 466.22,292.00 466.73,291.20 467.25,290.46 467.77,289.78 468.28,289.17 468.80,288.63 469.32,288.17 469.83,287.78 470.35,287.47 470.87,287.24 471.38,287.10 471.90,287.04 472.42,287.06 472.93,287.16 473.45,287.35 473.97,287.62 474.48,287.97 475.00,288.40 475.52,288.91 476.03,289.48 476.55,290.13 477.07,290.84 477.58,291.61 478.10,292.44 478.62,293.32 479.13,294.24 479.65,295.21 480.17,296.21 480.68,297.24 481.20,298.29 481.72,299.36 482.23,300.43 482.75,301.51 483.27,302.59 483.78,303.65 484.30,304.70 484.82,305.73 485.33,306.72 485.85,307.69 486.37,308.61 486.88,309.48 487.40,310.31 487.92,311.07 488.43,311.78 488.95,312.42 489.47,312.99 489.98,313.49 490.50,313.91 491.02,314.26 491.53,314.52 492.05,314.70 492.57,314.80 493.08,314.82 493.60,314.75 494.12,314.60 494.63,314.37 495.15,314.05 495.67,313.66 496.18,313.18 496.70,312.64 497.22,312.02 497.73,311.34 498.25,310.60 498.77,309.79 499.28,308.94 499.80,308.03 500.32,307.08 500.83,306.10 501.35,305.08 501.87,304.04 502.38,302.98 502.90,301.91 503.42,300.83 503.93,299.75 504.45,298.68 504.97,297.62 505.48,296.59 506.00,295.57 506.52,294.60 507.04,293.66 507.55,292.76 508.07,291.91 508.59,291.12 509.10,290.38 509.62,289.71 510.14,289.11 510.65,288.58 511.17,288.12 511.69,287.74 512.20,287.44 512.72,287.22 513.24,287.09 513.75,287.04 514.27,287.07 514.79,287.18 515.30,287.38 515.82,287.66 516.34,288.02 516.85,288.45 517.37,288.97 517.89,289.55 518.40,290.20 518.92,290.92 519.44,291.70 519.95,292.53 520.47,293.42 520.99,294.35 521.50,295.32 522.02,296.32 522.54,297.35 523.05,298.40 523.57,299.47 524.09,300.55 524.60,301.63 525.12,302.70 525.64,303.77 526.15,304.81 526.67,305.84 527.19,306.83 527.70,307.79 528.22,308.71 528.74,309.58 529.25,310.39 529.77,311.15 530.29,311.85 530.80,312.49 531.32,313.05 531.84,313.54 532.35,313.96 532.87,314.29 533.39,314.55 533.90,314.72 534.42,314.81 534.94,314.82 535.45,314.74 535.97,314.58 536.49,314.33 537.00,314.01 537.52,313.61 538.04,313.13 538.55,312.58 539.07,311.95 539.59,311.26 540.10,310.51 540.62,309.70 541.14,308.84 541.65,307.93 542.17,306.98 542.69,305.99 543.20,304.97 543.72,303.92 544.24,302.86 544.75,301.79 545.27,300.71 545.79,299.63 546.30,298.56 546.82,297.51 547.34,296.47 547.85,295.47 548.37,294.49 548.89,293.55 549.40,292.66 549.92,291.82 550.44,291.03 550.95,290.31 551.47,289.64 551.99,289.05 552.50,288.53 553.02,288.08 553.54,287.71 554.05,287.42 554.57,287.21 555.09,287.08 555.60,287.03 556.12,287.07 556.64,287.20 557.15,287.41 557.67,287.69 558.19,288.06 558.70,288.51 559.22,289.03 559.74,289.62 560.26,290.28 560.77,291.00 561.29,291.79 561.81,292.63 562.32,293.52 562.84,294.45 563.36,295.43 563.87,296.43 564.39,297.47 564.91,298.52 565.42,299.59 565.94,300.67 566.46,301.75 566.97,302.82 567.49,303.88 568.01,304.93 568.52,305.95 569.04,306.94 569.56,307.89 570.07,308.80 570.59,309.67 571.11,310.48 571.62,311.23 572.14,311.93 572.66,312.55 573.17,313.11 573.69,313.59 574.21,314.00 574.72,314.32 575.24,314.57 575.76,314.73 576.27,314.81 576.79,314.81 577.31,314.72 577.82,314.56 578.34,314.30 578.86,313.97 579.37,313.56 579.89,313.07 580.41,312.51 580.92,311.88 581.44,311.18 581.96,310.43 582.47,309.61 582.99,308.74 583.51,307.83 584.02,306.87 584.54,305.88 585.06,304.86 585.57,303.81 586.09,302.75 586.61,301.67 587.12,300.59 587.64,299.52 588.16,298.45 588.67,297.39 589.19,296.36 589.71,295.36 590.22,294.39 590.74,293.46 591.26,292.57 591.77,291.73 592.29,290.95 592.81,290.23 593.32,289.58 593.84,288.99 594.36,288.47 594.87,288.03 595.39,287.67 595.91,287.39 596.42,287.19 596.94,287.07 597.46,287.03 597.97,287.08 598.49,287.22 599.01,287.43 599.52,287.73 600.04,288.11 600.56,288.56 601.07,289.09 601.59,289.69"/>
<polyline fill="none" stroke="#ffa500" stroke-width="2.11" stroke-linejoin="round" stroke-linecap="square" points="85.41,413.33 85.93,410.68 86.44,408.04 86.96,405.42 87.48,402.83 87.99,400.29 88.51,397.81 89.03,395.40 89.54,393.07 90.06,390.82 90.58,388.68 91.09,386.64 91.61,384.72 92.13,382.92 92.64,381.25 93.16,379.73 93.68,378.34 94.19,377.11 94.71,376.04 95.23,375.12 95.74,374.37 96.26,373.79 96.78,373.37 97.29,373.12 97.81,373.04 98.33,373.12 98.84,373.38 99.36,373.79 99.88,374.37 100.39,375.11 100.91,376.00 101.43,377.04 101.94,378.23 102.46,379.55 102.98,381.00 103.49,382.57 104.01,384.26 104.53,386.05 105.04,387.94 105.56,389.92 106.08,391.98 106.59,394.10 107.11,396.29 107.63,398.52 108.14,400.79 108.66,403.09 109.18,405.40 109.69,407.73 110.21,410.04 110.73,412.35 111.24,414.63 111.76,416.87 112.28,419.07 112.79,421.22 113.31,423.31 113.83,425.33 114.34,427.27 114.86,429.12 115.38,430.88 115.89,432.54 116.41,434.10 116.93,435.55 117.44,436.88 117.96,438.09 118.48,439.18 118.99,440.15 119.51,440.98 120.03,441.69 120.54,442.27 121.06,442.72 121.58,443.03 122.09,443.22 122.61,443.28 123.13,443.22 123.64,443.04 124.16,442.73 124.68,442.31 125.19,441.78 125.71,441.15 126.23,440.41 126.74,439.58 127.26,438.66 127.78,437.66 128.30,436.58 128.81,435.43 129.33,434.23 129.85,432.96 130.36,431.65 130.88,430.30 131.40,428.91 131.91,427.50 132.43,426.08 132.95,424.64 133.46,423.19 133.98,421.75 134.50,420.32 135.01,418.91 135.53,417.52 136.05,416.15 136.56,414.82 137.08,413.53 137.60,412.29 138.11,411.09 138.63,409.94 139.15,408.85 139.66,407.82 140.18,406.85 140.70,405.95 141.21,405.11 141.73,404.34 142.25,403.64 142.76,403.00 143.28,402.44 143.80,401.95 144.31,401.52 144.83,401.16 145.35,400.87 145.86,400.64 146.38,400.48 146.90,400.37 147.41,400.32 147.93,400.32 148.45,400.37 148.96,400.47 149.48,400.62 150.00,400.80 150.51,401.02 151.03,401.27 151.55,401.55 152.06,401.85 152.58,402.18 153.10,402.52 153.61,402.87 154.13,403.23 154.65,403.60 155.16,403.96 155.68,404.33 156.20,404.69 156.71,405.04 157.23,405.39 157.75,405.72 158.26,406.04 158.78,406.34 159.30,406.62 159.81,406.88 160.33,407.12 160.85,407.34 161.36,407.54 161.88,407.72 162.40,407.88 162.91,408.02 163.43,408.13 163.95,408.23 164.46,408.31 164.98,408.38 165.50,408.43 166.01,408.47 166.53,408.50 167.05,408.52 167.56,408.53 168.08,408.55 168.60,408.56 169.11,408.58 169.63,408.60 170.15,408.62 170.66,408.66 171.18,408.72 171.70,408.79 172.21,408.88 172.73,408.98 173.25,409.12 173.76,409.28 174.28,409.46 174.80,409.68 175.31,409.92 175.83,410.20 176.35,410.51 176.86,410.86 177.38,411.24 177.90,411.65 178.41,412.10 178.93,412.58 179.45,413.09 179.96,413.64 180.48,414.22 181.00,414.82 181.52,415.46 182.03,416.11 182.55,416.79 183.07,417.49 183.58,418.21 184.10,418.94 184.62,419.68 185.13,420.42 185.65,421.17 186.17,421.91 186.68,422.65 187.20,423.38 187.72,424.09 188.23,424.78 188.75,425.45 189.27,426.09 189.78,426.70 190.30,427.27 190.82,427.80 191.33,428.29 191.85,428.72 192.37,429.11 192.88,429.43 193.40,429.70 193.92,429.91 194.43,430.05 194.95,430.12 195.47,430.12 195.98,430.05 196.50,429.91 197.02,429.70 197.53,429.41 198.05,429.04 198.57,428.61 199.08,428.10 199.60,427.51 200.12,426.86 200.63,426.13 201.15,425.34 201.67,424.49 202.18,423.58 202.70,422.61 203.22,421.58 203.73,420.51 204.25,419.39 204.77,418.23 205.28,417.04 205.80,415.82 206.32,414.58 206.83,413.32 207.35,412.04 207.87,410.76 208.38,409.49 208.90,408.22 209.42,406.96 209.93,405.72 210.45,404.51 210.97,403.33 211.48,402.19 212.00,401.10 212.52,400.05 213.03,399.06 213.55,398.13 214.07,397.26 214.58,396.47 215.10,395.75 215.62,395.11 216.13,394.56 216.65,394.08 217.17,393.70 217.68,393.41 218.20,393.21 218.72,393.10 219.23,393.09 219.75,393.17 220.27,393.35 220.78,393.62 221.30,393.98 221.82,394.44 222.33,394.98 222.85,395.61 223.37,396.32 223.88,397.12 224.40,397.98 224.92,398.92 225.43,399.92 225.95,400.99 226.47,402.11 226.98,403.28 227.50,404.49 228.02,405.74 228.53,407.01 229.05,408.31 229.57,409.63 230.08,410.96 230.60,412.28 231.12,413.61 231.63,414.92 232.15,416.21 232.67,417.48 233.18,418.71 233.70,419.90 234.22,421.05 234.73,422.15 235.25,423.19 235.77,424.16 236.29,425.07 236.80,425.91 237.32,426.67 237.84,427.34 238.35,427.94 238.87,428.44 239.39,428.86 239.90,429.18 240.42,429.42 240.94,429.56 241.45,429.60 241.97,429.55 242.49,429.41 243.00,429.18 243.52,428.86 244.04,428.45 244.55,427.96 245.07,427.38 245.59,426.73 246.10,426.01 246.62,425.22 247.14,424.36 247.65,423.45 248.17,422.49 248.69,421.49 249.20,420.44 249.72,419.37 250.24,418.26 250.75,417.14 251.27,416.01 251.79,414.88 252.30,413.75 252.82,412.62 253.34,411.52 253.85,410.44 254.37,409.39 254.89,408.38 255.40,407.42 255.92,406.50 256.44,405.64 256.95,404.84 257.47,404.11 257.99,403.45 258.50,402.86 259.02,402.35 259.54,401.93 260.05,401.59 260.57,401.34 261.09,401.18 261.60,401.11 262.12,401.13 262.64,401.24 263.15,401.44 263.67,401.73 264.19,402.11 264.70,402.57 265.22,403.12 265.74,403.74 266.25,404.45 266.77,405.22 267.29,406.06 267.80,406.96 268.32,407.91 268.84,408.92 269.35,409.97 269.87,411.06 270.39,412.17 270.90,413.31 271.42,414.47 271.94,415.63 272.45,416.79 272.97,417.95 273.49,419.09 274.00,420.21 274.52,421.30 275.04,422.36 275.55,423.37 276.07,424.33 276.59,425.23 277.10,426.06 277.62,426.83 278.14,427.52 278.65,428.13 279.17,428.66 279.69,429.09 280.20,429.43 280.72,429.67 281.24,429.82 281.75,429.86 282.27,429.79 282.79,429.63 283.30,429.35 283.82,428.98 284.34,428.50 284.85,427.91 285.37,427.23 285.89,426.45 286.40,425.57 286.92,424.61 287.44,423.56 287.95,422.42 288.47,421.22 288.99,419.94 289.51,418.60 290.02,417.20 290.54,415.75 291.06,414.27 291.57,412.75 292.09,411.20 292.61,409.64 293.12,408.07 293.64,406.49 294.16,404.93 294.67,403.38 295.19,401.86 295.71,400.38 296.22,398.94 296.74,397.55 297.26,396.21 297.77,394.95 298.29,393.76 298.81,392.66 299.32,391.64 299.84,390.72 300.36,389.90 300.87,389.18 301.39,388.58 301.91,388.10 302.42,387.73 302.94,387.49 303.46,387.37 303.97,387.38 304.49,387.52 305.01,387.78 305.52,388.18 306.04,388.70 306.56,389.35 307.07,390.12 307.59,391.01 308.11,392.02 308.62,393.15 309.14,394.38 309.66,395.72 310.17,397.15 310.69,398.68 311.21,400.29 311.72,401.98 312.24,403.73 312.76,405.55 313.27,407.42 313.79,409.33 314.31,411.28 314.82,413.25 315.34,415.23 315.86,417.23 316.37,419.22 316.89,421.20 317.41,423.15 317.92,425.07 318.44,426.95 318.96,428.78 319.47,430.55 319.99,432.25 320.51,433.88 321.02,435.42 321.54,436.87 322.06,438.22 322.57,439.46 323.09,440.59 323.61,441.61 324.12,442.50 324.64,443.27 325.16,443.90 325.67,444.41 326.19,444.77 326.71,445.00 327.22,445.09 327.74,445.05 328.26,444.86 328.77,444.53 329.29,444.07 329.81,443.48 330.32,442.75 330.84,441.90 331.36,440.92 331.87,439.83 332.39,438.62 332.91,437.31 333.42,435.89 333.94,434.38 334.46,432.78 334.97,431.11 335.49,429.36 336.01,427.55 336.52,425.68 337.04,423.77 337.56,421.82 338.07,419.84 338.59,417.84 339.11,415.83 339.62,413.82 340.14,411.82 340.66,409.84 341.17,407.88 341.69,405.96 342.21,404.07 342.72,402.24 343.24,400.47 343.76,398.76 344.28,397.13 344.79,395.57 345.31,394.10 345.83,392.72 346.34,391.44 346.86,390.26 347.38,389.18 347.89,388.21 348.41,387.35 348.93,386.61 349.44,385.98 349.96,385.47 350.48,385.08 350.99,384.80 351.51,384.65 352.03,384.61 352.54,384.68 353.06,384.87 353.58,385.16 354.09,385.57 354.61,386.08 355.13,386.69 355.64,387.39 356.16,388.19 356.68,389.07 357.19,390.03 357.71,391.07 358.23,392.17 358.74,393.34 359.26,394.57 359.78,395.84 360.29,397.16 360.81,398.52 361.33,399.90 361.84,401.32 362.36,402.74 362.88,404.18 363.39,405.62 363.91,407.06 364.43,408.50 364.94,409.92 365.46,411.32 365.98,412.69 366.49,414.04 367.01,415.35 367.53,416.62 368.04,417.85 368.56,419.03 369.08,420.16 369.59,421.24 370.11,422.26 370.63,423.22 371.14,424.13 371.66,424.97 372.18,425.75 372.69,426.46 373.21,427.11 373.73,427.70 374.24,428.22 374.76,428.68 375.28,429.08 375.79,429.42 376.31,429.69 376.83,429.91 377.34,430.08 377.86,430.19 378.38,430.24 378.89,430.26 379.41,430.22 379.93,430.14 380.44,430.02 380.96,429.87 381.48,429.68 381.99,429.46 382.51,429.21 383.03,428.93 383.54,428.63 384.06,428.32 384.58,427.98 385.09,427.64 385.61,427.28 386.13,426.91 386.64,426.53 387.16,426.14 387.68,425.76 388.19,425.37 388.71,424.97 389.23,424.58 389.74,424.19 390.26,423.80 390.78,423.41 391.29,423.03 391.81,422.64 392.33,422.26 392.84,421.88 393.36,421.49 393.88,421.11 394.39,420.73 394.91,420.34 395.43,419.95 395.94,419.56 396.46,419.16 396.98,418.75 397.49,418.33 398.01,417.90 398.53,417.46 399.05,417.01 399.56,416.54 400.08,416.05 400.60,415.54 401.11,415.02 401.63,414.47 402.15,413.91 402.66,413.32 403.18,412.71 403.70,412.07 404.21,411.42 404.73,410.74 405.25,410.03 405.76,409.31 406.28,408.56 406.80,407.79 407.31,407.00 407.83,406.20 408.35,405.38 408.86,404.55 409.38,403.70 409.90,402.85 410.41,401.99 410.93,401.13 411.45,400.28 411.96,399.42 412.48,398.58 413.00,397.75 413.51,396.94 414.03,396.15 414.55,395.38 415.06,394.65 415.58,393.95 416.10,393.29 416.61,392.68 417.13,392.11 417.65,391.60 418.16,391.15 418.68,390.76 419.20,390.44 419.71,390.18 420.23,390.01 420.75,389.90 421.26,389.89 421.78,389.95 422.30,390.10 422.81,390.34 423.33,390.67 423.85,391.10 424.36,391.61 424.88,392.22 425.40,392.93 425.91,393.73 426.43,394.62 426.95,395.60 427.46,396.68 427.98,397.84 428.50,399.08 429.01,400.41 429.53,401.82 430.05,403.30 430.56,404.85 431.08,406.46 431.60,408.14 432.11,409.86 432.63,411.63 433.15,413.44 433.66,415.29 434.18,417.16 434.70,419.04 435.21,420.94 435.73,422.84 436.25,424.73 436.76,426.60 437.28,428.46 437.80,430.28 438.31,432.06 438.83,433.79 439.35,435.46 439.86,437.07 440.38,438.61 440.90,440.06 441.41,441.43 441.93,442.70 442.45,443.86 442.96,444.92 443.48,445.86 444.00,446.68 444.51,447.37 445.03,447.94 445.55,448.37 446.06,448.66 446.58,448.80 447.10,448.81 447.61,448.67 448.13,448.39 448.65,447.95 449.16,447.38 449.68,446.65 450.20,445.79 450.71,444.79 451.23,443.64 451.75,442.37 452.27,440.97 452.78,439.44 453.30,437.80 453.82,436.04 454.33,434.18 454.85,432.23 455.37,430.18 455.88,428.06 456.40,425.86 456.92,423.60 457.43,421.29 457.95,418.94 458.47,416.55 458.98,414.14 459.50,411.72 460.02,409.30 460.53,406.89 461.05,404.50 461.57,402.15 462.08,399.83 462.60,397.57 463.12,395.37 463.63,393.24 464.15,391.19 464.67,389.24 465.18,387.38 465.70,385.64 466.22,384.01 466.73,382.50 467.25,381.13 467.77,379.89 468.28,378.79 468.80,377.85 469.32,377.05 469.83,376.41 470.35,375.93 470.87,375.60 471.38,375.44 471.90,375.44 472.42,375.60 472.93,375.92 473.45,376.40 473.97,377.04 474.48,377.83 475.00,378.76 475.52,379.85 476.03,381.07 476.55,382.42 477.07,383.90 477.58,385.50 478.10,387.21 478.62,389.02 479.13,390.92 479.65,392.91 480.17,394.98 480.68,397.11 481.20,399.30 481.72,401.53 482.23,403.80 482.75,406.09 483.27,408.39 483.78,410.70 484.30,413.00 484.82,415.28 485.33,417.53 485.85,419.74 486.37,421.91 486.88,424.01 487.40,426.05 487.92,428.01 488.43,429.88 488.95,431.66 489.47,433.34 489.98,434.91 490.50,436.37 491.02,437.71 491.53,438.92 492.05,440.01 492.57,440.96 493.08,441.77 493.60,442.45 494.12,442.99 494.63,443.39 495.15,443.64 495.67,443.76 496.18,443.73 496.70,443.57 497.22,443.28 497.73,442.85 498.25,442.29 498.77,441.61 499.28,440.82 499.80,439.91 500.32,438.89 500.83,437.77 501.35,436.56 501.87,435.27 502.38,433.90 502.90,432.45 503.42,430.95 503.93,429.39 504.45,427.79 504.97,426.16 505.48,424.49 506.00,422.81 506.52,421.12 507.04,419.43 507.55,417.75 508.07,416.08 508.59,414.44 509.10,412.83 509.62,411.27 510.14,409.75 510.65,408.29 511.17,406.89 511.69,405.55 512.20,404.29 512.72,403.11 513.24,402.01 513.75,401.00 514.27,400.08 514.79,399.26 515.30,398.53 515.82,397.90 516.34,397.37 516.85,396.94 517.37,396.61 517.89,396.38 518.40,396.24 518.92,396.21 519.44,396.27 519.95,396.42 520.47,396.66 520.99,396.98 521.50,397.39 522.02,397.87 522.54,398.43 523.05,399.05 523.57,399.73 524.09,400.47 524.60,401.26 525.12,402.09 525.64,402.96 526.15,403.86 526.67,404.78 527.19,405.72 527.70,406.67 528.22,407.63 528.74,408.58 529.25,409.52 529.77,410.45 530.29,411.36 530.80,412.25 531.32,413.10 531.84,413.91 532.35,414.69 532.87,415.41 533.39,416.09 533.90,416.71 534.42,417.28 534.94,417.79 535.45,418.24 535.97,418.62 536.49,418.94 537.00,419.19 537.52,419.38 538.04,419.49 538.55,419.55 539.07,419.54 539.59,419.46 540.10,419.32 540.62,419.13 541.14,418.87 541.65,418.57 542.17,418.21 542.69,417.80 543.20,417.35 543.72,416.87 544.24,416.34 544.75,415.79 545.27,415.22 545.79,414.62 546.30,414.01 546.82,413.39 547.34,412.77 547.85,412.15 548.37,411.53 548.89,410.93 549.40,410.34 549.92,409.77 550.44,409.23 550.95,408.72 551.47,408.25 551.99,407.81 552.50,407.41 553.02,407.07 553.54,406.77 554.05,406.52 554.57,406.33 555.09,406.19 555.60,406.11 556.12,406.09 556.64,406.13 557.15,406.23 557.67,406.39 558.19,406.61 558.70,406.89 559.22,407.22 559.74,407.61 560.26,408.06 560.77,408.56 561.29,409.10 561.81,409.69 562.32,410.32 562.84,410.99 563.36,411.70 563.87,412.43 564.39,413.19 564.91,413.97 565.42,414.77 565.94,415.57 566.46,416.38 566.97,417.20 567.49,418.00 568.01,418.80 568.52,419.59 569.04,420.35 569.56,421.09 570.07,421.80 570.59,422.47 571.11,423.11 571.62,423.70 572.14,424.24 572.66,424.74 573.17,425.18 573.69,425.56 574.21,425.89 574.72,426.15 575.24,426.35 575.76,426.48 576.27,426.54 576.79,426.54 577.31,426.47 577.82,426.33 578.34,426.12 578.86,425.84 579.37,425.50 579.89,425.10 580.41,424.63 580.92,424.10 581.44,423.52 581.96,422.88 582.47,422.19 582.99,421.46 583.51,420.68 584.02,419.86 584.54,419.01 585.06,418.13 585.57,417.22 586.09,416.30 586.61,415.36 587.12,414.41 587.64,413.45 588.16,412.50 588.67,411.55 589.19,410.62 589.71,409.70 590.22,408.80 590.74,407.93 591.26,407.09 591.77,406.29 592.29,405.52 592.81,404.80 593.32,404.13 593.84,403.50 594.36,402.93 594.87,402.42 595.39,401.97 595.91,401.57 596.42,401.24 596.94,400.97 597.46,400.77 597.97,400.63 598.49,400.56 599.01,400.55 599.52,400.60 600.04,400.72 600.56,400.90 601.07,401.14 601.59,401.44"/>
<path fill="#000" fill-opacity="0.0549" d="M59.944 31h568.111v1h-568.111zM59.944 33h568.111v1h-568.111zM59.944 114h568.111v1h-568.111zM59.944 116h568.111v1h-568.111zM59.944 143h568.111v1h-568.111zM59.944 145h568.111v1h-568.111zM59.944 227h568.111v1h-568.111zM59.944 229h568.111v1h-568.111zM59.944 256h568.111v1h-568.111zM59.944 258h568.111v1h-568.111zM59.944 339h568.111v1h-568.111zM59.944 341h568.111v1h-568.111zM59.944 368h568.111v1h-568.111zM59.944 370h568.111v1h-568.111zM59.944 452h568.111v1h-568.111zM59.944 454h568.111v1h-568.111zM55.500 47h5.000v1h-5.000zM55.500 49h5.000v1h-5.000zM55.500 75h5.000v1h-5.000zM55.500 77h5.000v1h-5.000zM55.500 103h5.000v1h-5.000zM55.500 105h5.000v1h-5.000zM55.500 160h5.000v1h-5.000zM55.500 162h5.000v1h-5.000zM55.500 188h5.000v1h-5.000zM55.500 190h5.000v1h-5.000zM55.500 215h5.000v1h-5.000zM55.500 217h5.000v1h-5.000zM55.500 272h5.000v1h-5.000zM55.500 274h5.000v1h-5.000zM55.500 300h5.000v1h-5.000zM55.500 302h5.000v1h-5.000zM55.500 328h5.000v1h-5.000zM55.500 330h5.000v1h-5.000zM55.500 385h5.000v1h-5.000zM55.500 387h5.000v1h-5.000zM55.500 412h5.000v1h-5.000zM55.500 414h5.000v1h-5.000zM55.500 440h5.000v1h-5.000zM55.500 442h5.000v1h-5.000z"/>
<path fill="#000" d="M59.944 31.944h1.111v84.111h-1.111zM626.944 31.944h1.111v84.111h-1.111zM59.944 143.944h1.111v85.111h-1.111zM626.944 143.944h1.111v85.111h-1.111zM59.944 256.944h1.111v84.111h-1.111zM626.944 256.944h1.111v84.111h-1.111zM59.944 368.944h1.111v85.111h-1.111zM626.944 368.944h1.111v85.111h-1.111zM84.944 115.500h1.111v5.000h-1.111zM188.944 115.500h1.111v5.000h-1.111zM291.944 115.500h1.111v5.000h-1.111zM394.944 115.500h1.111v5.000h-1.111zM497.944 115.500h1.111v5.000h-1.111zM601.944 115.500h1.111v5.000h-1.111zM84.944 228.500h1.111v5.000h-1.111zM188.944 228.500h1.111v5.000h-1.111zM291.944 228.500h1.111v5.000h-1.111zM394.944 228.500h1.111v5.000h-1.111zM497.944 228.500h1.111v5.000h-1.111zM601.944 228.500h1.111v5.000h-1.111zM84.944 340.500h1.111v5.000h-1.111zM188.944 340.500h1.111v5.000h-1.111zM291.944 340.500h1.111v5.000h-1.111zM394.944 340.500h1.111v5.000h-1.111zM497.944 340.500h1.111v5.000h-1.111zM601.944 340.500h1.111v5.000h-1.111zM84.944 453.500h1.111v5.000h-1.111zM188.944 453.500h1.111v5.000h-1.111zM291.944 453.500h1.111v5.000h-1.111zM394.944 453.500h1.111v5.000h-1.111zM497.944 453.500h1.111v5.000h-1.111zM601.944 453.500h1.111v5.000h-1.111zM59.944 32h568.111v1h-568.111zM59.944 115h568.111v1h-568.111zM59.944 144h568.111v1h-568.111zM59.944 228h568.111v1h-568.111zM59.944 257h568.111v1h-568.111zM59.944 340h568.111v1h-568.111zM59.944 369h568.111v1h-568.111zM59.944 453h568.111v1h-568.111zM55.500 48h5.000v1h-5.000zM55.500 76h5.000v1h-5.000zM55.500 104h5.000v1h-5.000zM55.500 161h5.000v1h-5.000zM55.500 189h5.000v1h-5.000zM55.500 216h5.000v1h-5.000zM55.500 273h5.000v1h-5.000zM55.500 301h5.000v1h-5.000zM55.500 329h5.000v1h-5.000zM55.500 386h5.000v1h-5.000zM55.500 413h5.000v1h-5.000zM55.500 441h5.000v1h-5.000z"/>
<g font-family="Liberation Sans, sans-serif" fill="#000" opacity="0.999">
<text id="title0" y="24.00" font-size="19.20"><tspan x="292.66" y="24.00" textLength="9.63" lengthAdjust="spacingAndGlyphs">E</tspan><tspan x="303.09" y="24.00" textLength="9.42" lengthAdjust="spacingAndGlyphs">2</tspan> <tspan x="319.14" y="23.74" font-size="19.20" textLength="4.69" lengthAdjust="spacingAndGlyphs">(</tspan><tspan x="325.42" y="24.00" textLength="9.88" lengthAdjust="spacingAndGlyphs">8</tspan><tspan x="336.01" y="24.00" textLength="9.42" lengthAdjust="spacingAndGlyphs">2</tspan><tspan x="346.36" y="24.00" textLength="5.01" lengthAdjust="spacingAndGlyphs">.</tspan><tspan x="351.92" y="24.00" textLength="9.77" lengthAdjust="spacingAndGlyphs">4</tspan> <tspan x="367.64" y="24.00" textLength="11.97" lengthAdjust="spacingAndGlyphs">H</tspan><tspan x="379.86" y="24.00" textLength="8.93" lengthAdjust="spacingAndGlyphs">z</tspan><tspan x="389.85" y="23.74" font-size="19.20" textLength="4.69" lengthAdjust="spacingAndGlyphs">)</tspan></text>
<text id="ylabel0" y="19.87" font-size="14.20" transform="rotate(-90)"><tspan x="-111.84" textLength="9.33" lengthAdjust="spacingAndGlyphs">A</tspan><tspan x="-102.22" textLength="13.18" lengthAdjust="spacingAndGlyphs">m</tspan><tspan x="-88.62" textLength="8.40" lengthAdjust="spacingAndGlyphs">p</tspan><tspan x="-79.75" textLength="3.15" lengthAdjust="spacingAndGlyphs">l</tspan><tspan x="-75.89" textLength="3.15" lengthAdjust="spacingAndGlyphs">i</tspan><tspan x="-72.30" textLength="5.16" lengthAdjust="spacingAndGlyphs">t</tspan><tspan x="-66.75" textLength="8.33" lengthAdjust="spacingAndGlyphs">u</tspan><tspan x="-58.03" textLength="8.40" lengthAdjust="spacingAndGlyphs">d</tspan><tspan x="-49.22" textLength="8.34" lengthAdjust="spacingAndGlyphs">e</tspan></text>
<text id="ytick0_1" y="110.00" font-size="14.20"><tspan x="29.54" y="110.36" textLength="10.45" lengthAdjust="spacingAndGlyphs">−</tspan><tspan x="40.88" y="110.00" textLength="7.85" lengthAdjust="spacingAndGlyphs">2</tspan></text>
<text id="ytick0_2" y="82.00" font-size="14.60"><tspan x="42.15" textLength="8.14" lengthAdjust="spacingAndGlyphs">0</tspan></text>
<text id="ytick0_3" y="54.00" font-size="14.20"><tspan x="41.25" textLength="7.85" lengthAdjust="spacingAndGlyphs">2</tspan></text>
<text id="title1" y="136.00" font-size="19.20"><tspan x="299.29" y="136.00" textLength="12.64" lengthAdjust="spacingAndGlyphs">G</tspan><tspan x="312.43" y="136.00" textLength="9.42" lengthAdjust="spacingAndGlyphs">2</tspan> <tspan x="328.48" y="135.74" font-size="19.20" textLength="4.69" lengthAdjust="spacingAndGlyphs">(</tspan><tspan x="334.61" y="136.00" textLength="10.09" lengthAdjust="spacingAndGlyphs">9</tspan><tspan x="345.34" y="136.00" textLength="9.88" lengthAdjust="spacingAndGlyphs">8</tspan> <tspan x="361.12" y="136.00" textLength="11.97" lengthAdjust="spacingAndGlyphs">H</tspan><tspan x="373.34" y="136.00" textLength="8.93" lengthAdjust="spacingAndGlyphs">z</tspan><tspan x="383.33" y="135.74" font-size="19.20" textLength="4.69" lengthAdjust="spacingAndGlyphs">)</tspan></text>
<text id="ylabel1" y="19.87" font-size="14.20" transform="rotate(-90)"><tspan x="-223.84" textLength="9.33" lengthAdjust="spacingAndGlyphs">A</tspan><tspan x="-214.22" textLength="13.18" lengthAdjust="spacingAndGlyphs">m</tspan><tspan x="-200.62" textLength="8.40" lengthAdjust="spacingAndGlyphs">p</tspan><tspan x="-191.75" textLength="3.15" lengthAdjust="spacingAndGlyphs">l</tspan><tspan x="-187.89" textLength="3.15" lengthAdjust="spacingAndGlyphs">i</tspan><tspan x="-184.30" textLength="5.16" lengthAdjust="spacingAndGlyphs">t</tspan><tspan x="-178.75" textLength="8.33" lengthAdjust="spacingAndGlyphs">u</tspan><tspan x="-170.03" textLength="8.40" lengthAdjust="spacingAndGlyphs">d</tspan><tspan x="-161.22" textLength="8.34" lengthAdjust="spacingAndGlyphs">e</tspan></text>
<text id="ytick1_1" y="222.00" font-size="14.20"><tspan x="29.54" y="222.36" textLength="10.45" lengthAdjust="spacingAndGlyphs">−</tspan><tspan x="40.88" y="222.00" textLength="7.85" lengthAdjust="spacingAndGlyphs">2</tspan></text>
<text id="ytick1_2" y="194.00" font-size="14.60"><tspan x="42.15" textLength="8.14" lengthAdjust="spacingAndGlyphs">0</tspan></text>
<text id="ytick1_3" y="167.00" font-size="14.20"><tspan x="41.25" textLength="7.85" lengthAdjust="spacingAndGlyphs">2</tspan></text>
<text id="title2" y="249.00" font-size="19.20"><tspan x="286.56" y="249.00" textLength="10.80" lengthAdjust="spacingAndGlyphs">B</tspan><tspan x="298.03" y="249.00" textLength="9.42" lengthAdjust="spacingAndGlyphs">2</tspan> <tspan x="314.08" y="248.74" font-size="19.20" textLength="4.69" lengthAdjust="spacingAndGlyphs">(</tspan><tspan x="320.56" y="249.00" textLength="9.33" lengthAdjust="spacingAndGlyphs">1</tspan><tspan x="330.95" y="249.00" textLength="9.42" lengthAdjust="spacingAndGlyphs">2</tspan><tspan x="341.79" y="249.00" textLength="9.38" lengthAdjust="spacingAndGlyphs">3</tspan><tspan x="351.87" y="249.00" textLength="5.01" lengthAdjust="spacingAndGlyphs">.</tspan><tspan x="357.64" y="249.00" textLength="9.22" lengthAdjust="spacingAndGlyphs">5</tspan> <tspan x="373.16" y="249.00" textLength="11.97" lengthAdjust="spacingAndGlyphs">H</tspan><tspan x="385.38" y="249.00" textLength="8.93" lengthAdjust="spacingAndGlyphs">z</tspan><tspan x="395.36" y="248.74" font-size="19.20" textLength="4.69" lengthAdjust="spacingAndGlyphs">)</tspan></text>
<text id="ylabel2" y="19.87" font-size="14.20" transform="rotate(-90)"><tspan x="-336.84" textLength="9.33" lengthAdjust="spacingAndGlyphs">A</tspan><tspan x="-327.22" textLength="13.18" lengthAdjust="spacingAndGlyphs">m</tspan><tspan x="-313.62" textLength="8.40" lengthAdjust="spacingAndGlyphs">p</tspan><tspan x="-304.75" textLength="3.15" lengthAdjust="spacingAndGlyphs">l</tspan><tspan x="-300.89" textLength="3.15" lengthAdjust="spacingAndGlyphs">i</tspan><tspan x="-297.30" textLength="5.16" lengthAdjust="spacingAndGlyphs">t</tspan><tspan x="-291.75" textLength="8.33" lengthAdjust="spacingAndGlyphs">u</tspan><tspan x="-283.03" textLength="8.40" lengthAdjust="spacingAndGlyphs">d</tspan><tspan x="-274.22" textLength="8.34" lengthAdjust="spacingAndGlyphs">e</tspan></text>
<text id="ytick2_1" y="335.00" font-size="14.20"><tspan x="29.54" y="335.36" textLength="10.45" lengthAdjust="spacingAndGlyphs">−</tspan><tspan x="40.88" y="335.00" textLength="7.85" lengthAdjust="spacingAndGlyphs">2</tspan></text>
<text id="ytick2_2" y="307.00" font-size="14.60"><tspan x="42.15" textLength="8.14" lengthAdjust="spacingAndGlyphs">0</tspan></text>
<text id="ytick2_3" y="279.00" font-size="14.20"><tspan x="41.25" textLength="7.85" lengthAdjust="spacingAndGlyphs">2</tspan></text>
<text id="title3" y="361.00" font-size="19.20"><tspan x="284.73" textLength="9.63" lengthAdjust="spacingAndGlyphs">E</tspan> <tspan x="300.34" textLength="13.84" lengthAdjust="spacingAndGlyphs">M</tspan><tspan x="314.84" textLength="3.79" lengthAdjust="spacingAndGlyphs">i</tspan><tspan x="319.35" textLength="9.99" lengthAdjust="spacingAndGlyphs">n</tspan><tspan x="329.74" textLength="9.85" lengthAdjust="spacingAndGlyphs">o</tspan><tspan x="339.84" textLength="7.11" lengthAdjust="spacingAndGlyphs">r</tspan> <tspan x="352.01" textLength="11.17" lengthAdjust="spacingAndGlyphs">C</tspan><tspan x="363.73" textLength="10.06" lengthAdjust="spacingAndGlyphs">h</tspan><tspan x="374.18" textLength="9.85" lengthAdjust="spacingAndGlyphs">o</tspan><tspan x="384.27" textLength="7.11" lengthAdjust="spacingAndGlyphs">r</tspan><tspan x="390.92" textLength="10.07" lengthAdjust="spacingAndGlyphs">d</tspan></text>
<text id="ylabel3" y="19.87" font-size="14.20" transform="rotate(-90)"><tspan x="-448.84" textLength="9.33" lengthAdjust="spacingAndGlyphs">A</tspan><tspan x="-439.22" textLength="13.18" lengthAdjust="spacingAndGlyphs">m</tspan><tspan x="-425.62" textLength="8.40" lengthAdjust="spacingAndGlyphs">p</tspan><tspan x="-416.75" textLength="3.15" lengthAdjust="spacingAndGlyphs">l</tspan><tspan x="-412.89" textLength="3.15" lengthAdjust="spacingAndGlyphs">i</tspan><tspan x="-409.30" textLength="5.16" lengthAdjust="spacingAndGlyphs">t</tspan><tspan x="-403.75" textLength="8.33" lengthAdjust="spacingAndGlyphs">u</tspan><tspan x="-395.03" textLength="8.40" lengthAdjust="spacingAndGlyphs">d</tspan><tspan x="-386.22" textLength="8.34" lengthAdjust="spacingAndGlyphs">e</tspan></text>
<text id="ytick3_1" y="447.00" font-size="14.20"><tspan x="29.54" y="447.36" textLength="10.45" lengthAdjust="spacingAndGlyphs">−</tspan><tspan x="40.88" y="447.00" textLength="7.85" lengthAdjust="spacingAndGlyphs">2</tspan></text>
<text id="ytick3_2" y="419.00" font-size="14.60"><tspan x="42.15" textLength="8.14" lengthAdjust="spacingAndGlyphs">0</tspan></text>
<text id="ytick3_3" y="391.00" font-size="14.20"><tspan x="41.25" textLength="7.85" lengthAdjust="spacingAndGlyphs">2</tspan></text>
<text id="xlabel" y="494.00" font-size="14.20"><tspan x="318.64" y="494.00" textLength="5.16" lengthAdjust="spacingAndGlyphs">t</tspan><tspan x="324.35" y="494.00" textLength="3.15" lengthAdjust="spacingAndGlyphs">i</tspan><tspan x="328.06" y="494.00" textLength="13.18" lengthAdjust="spacingAndGlyphs">m</tspan><tspan x="341.49" y="494.00" textLength="8.34" lengthAdjust="spacingAndGlyphs">e</tspan><tspan x="350.36" y="493.32" font-size="14.20" textLength="3.91" lengthAdjust="spacingAndGlyphs">(</tspan><tspan x="355.69" y="494.00" textLength="6.66" lengthAdjust="spacingAndGlyphs">s</tspan><tspan x="363.58" y="493.32" font-size="14.20" textLength="3.91" lengthAdjust="spacingAndGlyphs">)</tspan></text>
<text id="xtick1" y="474.00" font-size="14.60"><tspan x="70.40" textLength="8.14" lengthAdjust="spacingAndGlyphs">0</tspan><tspan x="78.99" textLength="4.18" lengthAdjust="spacingAndGlyphs">.</tspan><tspan x="83.63" textLength="8.14" lengthAdjust="spacingAndGlyphs">0</tspan><tspan x="92.46" textLength="8.14" lengthAdjust="spacingAndGlyphs">0</tspan></text>
<text id="xtick2" y="474.00" font-size="14.60"><tspan x="173.65" textLength="8.14" lengthAdjust="spacingAndGlyphs">0</tspan><tspan x="182.25" textLength="4.18" lengthAdjust="spacingAndGlyphs">.</tspan><tspan x="186.89" textLength="8.14" lengthAdjust="spacingAndGlyphs">0</tspan><tspan x="195.68" textLength="7.85" lengthAdjust="spacingAndGlyphs">2</tspan></text>
<text id="xtick3" y="474.00" font-size="14.60"><tspan x="276.56" textLength="8.14" lengthAdjust="spacingAndGlyphs">0</tspan><tspan x="285.16" textLength="4.18" lengthAdjust="spacingAndGlyphs">.</tspan><tspan x="289.80" textLength="8.14" lengthAdjust="spacingAndGlyphs">0</tspan><tspan x="298.62" textLength="8.14" lengthAdjust="spacingAndGlyphs">4</tspan></text>
<text id="xtick4" y="474.00" font-size="14.60"><tspan x="380.41" textLength="8.14" lengthAdjust="spacingAndGlyphs">0</tspan><tspan x="389.01" textLength="4.18" lengthAdjust="spacingAndGlyphs">.</tspan><tspan x="393.65" textLength="8.14" lengthAdjust="spacingAndGlyphs">0</tspan><tspan x="402.34" textLength="8.43" lengthAdjust="spacingAndGlyphs">6</tspan></text>
<text id="xtick5" y="474.00" font-size="14.60"><tspan x="483.55" textLength="8.14" lengthAdjust="spacingAndGlyphs">0</tspan><tspan x="492.15" textLength="4.18" lengthAdjust="spacingAndGlyphs">.</tspan><tspan x="496.79" textLength="8.14" lengthAdjust="spacingAndGlyphs">0</tspan><tspan x="505.57" textLength="8.23" lengthAdjust="spacingAndGlyphs">8</tspan></text>
<text id="xtick6" y="474.00" font-size="14.60"><tspan x="586.63" textLength="8.14" lengthAdjust="spacingAndGlyphs">0</tspan><tspan x="595.22" textLength="4.18" lengthAdjust="spacingAndGlyphs">.</tspan><tspan x="599.98" textLength="7.78" lengthAdjust="spacingAndGlyphs">1</tspan><tspan x="608.69" textLength="8.14" lengthAdjust="spacingAndGlyphs">0</tspan></text>
</g></svg>
</body></html>
